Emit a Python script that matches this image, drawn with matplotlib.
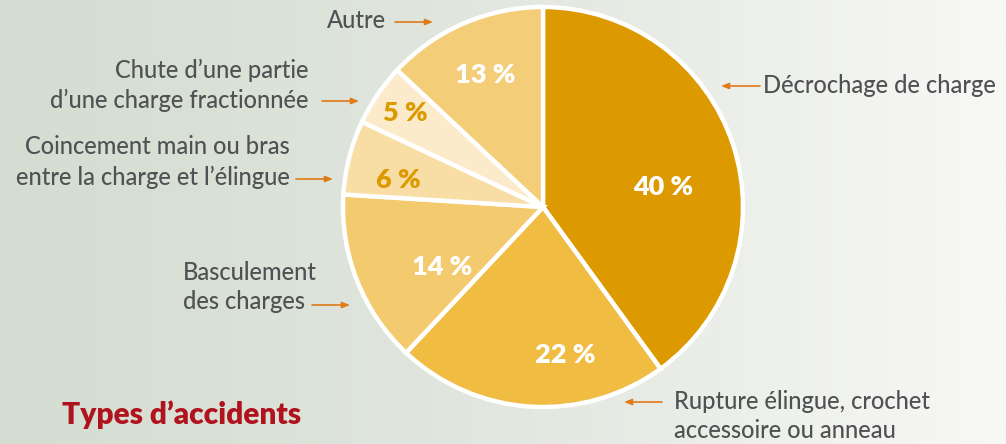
import numpy as np
import matplotlib
matplotlib.use("Agg")
import matplotlib.pyplot as plt

# data
categories = [
    "Décrochage de charge",
    "Rupture élingue, crochet\naccessoire ou anneau",
    "Basculement\ndes charges",
    "Coincement main ou bras\nentre la charge et l’élingue",
    "Chute d’une partie\nd’une charge fractionnée",
    "Autre",
]
shares = [40, 22, 14, 6, 5, 13]
pct_labels = [f"{v} %" for v in shares]
title = "Types d’accidents"

# styles
slice_colors = ["#DC9A00", "#F0BC41", "#F4CA6E", "#F8DDA5", "#FBEBCB", "#F4CD78"]
pct_colors = ["white", "white", "white", "#DC9A00", "#DC9A00", "white"]
text_color = "#505153"
arrow_color = "#E07B1A"
W, H = 1006, 444

plt.rcParams['font.family'] = ['Lato', 'DejaVu Sans']

fig = plt.figure(figsize=(W / 100, H / 100), dpi=100)
ax = fig.add_axes([0, 0, 1, 1])

def Y(y):
    return H - y

# background gradient, greenish grey on the left to near white on the right
left = np.array([211, 221, 209]) / 255
mid = np.array([226, 231, 223]) / 255
right = np.array([248, 248, 246]) / 255
t = np.linspace(0, 1, 400)
grad = np.where(t[:, None] < 0.5,
                left + (mid - left) * (t[:, None] / 0.5),
                mid + (right - mid) * ((t[:, None] - 0.5) / 0.5))
ax.imshow(grad[None, :, :], extent=[0, W, 0, H], aspect="auto", zorder=0)

# pie
cx, cy, r = 543, Y(207), 200
wedges, _ = ax.pie(shares, colors=slice_colors, startangle=90, counterclock=False,
                   center=(cx, cy), radius=r, frame=True,
                   wedgeprops=dict(edgecolor="white", linewidth=3.2))
for w in wedges:
    w.set_zorder(2)
ax.set_xlim(0, W)
ax.set_ylim(0, H)
ax.set_aspect("equal")
ax.axis("off")

# percentage labels
pct_pos = [(663, 187), (565, 355), (442, 267), (398, 180), (405, 113), (485, 75)]
for lab, (px, py), c in zip(pct_labels, pct_pos, pct_colors):
    ax.text(px, Y(py), lab, color=c, fontsize=19.5, fontweight="heavy",
            ha="center", va="center", zorder=3)

# category labels and arrows
label_pos = [
    (763, 85, "left"),
    (674, 416, "left"),
    (183, 287, "left"),
    (290, 162, "right"),
    (309, 85, "right"),
    (386, 20, "right"),
]
arrows = [
    ((760, 86), (721, 86)),
    ((662, 402), (624, 402)),
    ((312, 305), (350, 305)),
    ((296, 179), (333, 179)),
    ((322, 101), (359, 101)),
    ((395, 22), (433, 22)),
]
for name, (lx, ly, ha), (a0, a1) in zip(categories, label_pos, arrows):
    ax.text(lx, Y(ly), name, color=text_color, fontsize=17, fontweight="medium",
            ha=ha, va="center", multialignment=ha, linespacing=1.35, zorder=3)
    ax.annotate("", xy=(a1[0], Y(a1[1])), xytext=(a0[0], Y(a0[1])),
                arrowprops=dict(arrowstyle="-|>,head_length=0.45,head_width=0.18",
                                color=arrow_color, lw=1.2, shrinkA=0, shrinkB=0),
                zorder=3)

ax.text(62, Y(415), title, color="#B0121E", fontsize=21.5, fontweight="heavy",
        ha="left", va="center", zorder=3)

fig.savefig("out.png", dpi=100)
